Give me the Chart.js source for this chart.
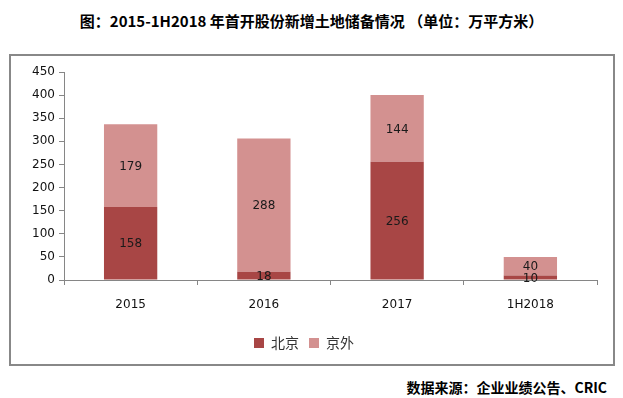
<!DOCTYPE html>
<html><head><meta charset="utf-8">
<script src="https://cdn.jsdelivr.net/npm/chart.js@4/dist/chart.umd.min.js"></script>
<style>
html,body{margin:0;padding:0;background:#fff;width:623px;height:398px;overflow:hidden;position:relative;}
#title{position:absolute;left:0;width:623px;top:10px;text-align:center;font:bold 15px "Noto Sans CJK SC","DejaVu Sans",sans-serif;color:#000;line-height:22px;}
#frame{position:absolute;left:9px;top:54px;width:602px;height:308px;border:2px solid #888;background:#fff;}
#src{position:absolute;right:16px;top:377px;font:bold 14px "Noto Sans CJK SC","DejaVu Sans",sans-serif;color:#000;line-height:20px;}
</style></head><body>
<div id="title">图：2015-1H2018 年首开股份新增土地储备情况 （单位：万平方米）</div>
<div id="frame"><canvas id="c" width="602" height="308"></canvas></div>
<div id="src">数据来源：企业业绩公告、CRIC</div>
<script>
const categories = ["2015", "2016", "2017", "1H2018"];
const seriesNames = ["北京", "京外"];
const beijing = [158, 18, 256, 10];
const outside = [179, 288, 144, 40];
const yTicks = [0, 50, 100, 150, 200, 250, 300, 350, 400, 450];

const labelPlugin = {
  id: 'segLabels',
  afterDatasetsDraw(chart) {
    const ctx = chart.ctx;
    ctx.save();
    ctx.font = '12px "DejaVu Sans", sans-serif';
    ctx.fillStyle = '#1a1a1a';
    ctx.textAlign = 'center';
    ctx.textBaseline = 'middle';
    chart.data.datasets.forEach((ds, i) => {
      const meta = chart.getDatasetMeta(i);
      meta.data.forEach((bar, j) => {
        const y = (bar.y + bar.base) / 2;
        ctx.fillText(String(ds.data[j]), bar.x, y + 1);
      });
    });
    ctx.restore();
  }
};

new Chart(document.getElementById('c'), {
  type: 'bar',
  data: {
    labels: categories,
    datasets: [
      { label: seriesNames[0], data: beijing, backgroundColor: '#A84645', borderWidth: 0 },
      { label: seriesNames[1], data: outside, backgroundColor: '#D39190', borderWidth: 0 }
    ]
  },
  options: {
    responsive: false,
    animation: false,
    devicePixelRatio: 1,
    layout: { padding: { left: 0, right: 16, top: 16, bottom: 4 } },
    datasets: { bar: { categoryPercentage: 1, barPercentage: 0.4 } },
    plugins: {
      legend: {
        position: 'bottom',
        labels: { boxWidth: 10, boxHeight: 10, padding: 10, color: '#333',
          font: { size: 14, family: '"Noto Sans CJK SC", sans-serif' } }
      },
      tooltip: { enabled: false }
    },
    scales: {
      x: {
        stacked: true,
        offset: true,
        grid: { display: true, drawOnChartArea: false, drawTicks: true, tickLength: 5, color: '#868686', offset: true },
        border: { display: true, color: '#868686', width: 1 },
        ticks: { color: '#111', padding: 13, font: { size: 12, family: '"DejaVu Sans", sans-serif' } },
        afterFit(s) { s.height = 46; }
      },
      y: {
        stacked: true,
        min: 0, max: 450,
        afterBuildTicks(s) { s.ticks = yTicks.map(v => ({ value: v })); },
        grid: { display: true, drawOnChartArea: false, drawTicks: true, tickLength: 5, color: '#868686' },
        border: { display: true, color: '#868686', width: 1 },
        ticks: { color: '#111', padding: 4, font: { size: 12, family: '"DejaVu Sans", sans-serif' } },
        afterFit(s) { s.width = 53; }
      }
    }
  },
  plugins: [labelPlugin]
});
</script>
</body></html>
